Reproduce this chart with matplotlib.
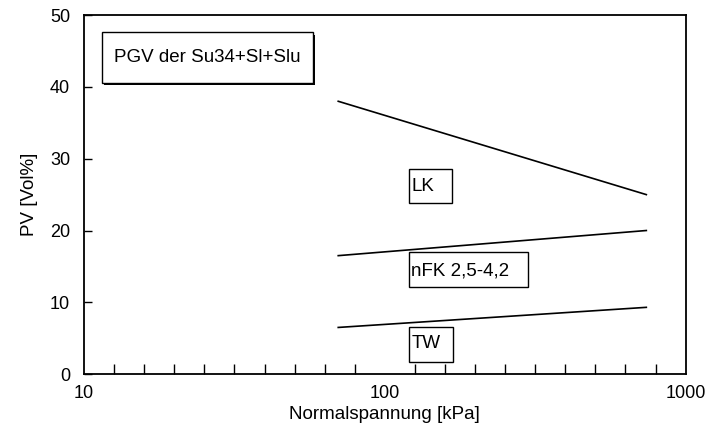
import numpy as np
import matplotlib
matplotlib.use('Agg')
import matplotlib.pyplot as plt
from matplotlib.ticker import FixedLocator, NullFormatter
from matplotlib.patches import Rectangle

plt.rcParams['font.family'] = ['Liberation Sans', 'DejaVu Sans']

# Normalspannung [kPa] und PV [Vol%]
x_start, x_end = 70, 740
lk_upper = [38.0, 25.0]
nfk_upper = [16.5, 20.0]
tw_upper = [6.5, 9.3]

labels = ['LK', 'nFK 2,5-4,2', 'TW']
label_y = [26.1, 14.4, 4.2]

yticks = [0, 10, 20, 30, 40, 50]
xticks = [10, 100, 1000]

# Kastengrenzen (x links/rechts, y unten/oben)
box_x0 = 120
box_x1 = [167, 300, 169]
box_y0 = [23.8, 12.1, 1.7]
box_y1 = [28.6, 17.0, 6.6]

fig, ax = plt.subplots(figsize=(7.12, 4.32), dpi=100)
fig.subplots_adjust(left=0.118, right=0.963, top=0.965, bottom=0.134)

for ys in (lk_upper, nfk_upper, tw_upper):
    ax.plot([x_start, x_end], ys, color='black', lw=1.2)

for txt, ly, x1, y0, y1 in zip(labels, label_y, box_x1, box_y0, box_y1):
    ax.add_patch(Rectangle((box_x0, y0), x1 - box_x0, y1 - y0,
                           fc='white', ec='black', lw=1.0, zorder=3))
    ax.text(box_x0 * 1.02, ly, txt, fontsize=13.5, ha='left', va='center', zorder=4)

# Titelbox mit Schatten
ax.add_patch(Rectangle((0.034, 0.805), 0.35, 0.14, transform=ax.transAxes,
                       fc='black', ec='black', lw=0))
ax.add_patch(Rectangle((0.030, 0.812), 0.35, 0.14, transform=ax.transAxes,
                       fc='white', ec='black', lw=1.0))
ax.text(0.205, 0.882, 'PGV der Su34+Sl+Slu', transform=ax.transAxes,
        fontsize=13.5, ha='center', va='center')

ax.set_xscale('log')
ax.set_xlim(10, 1000)
ax.set_ylim(0, 50)
ax.set_xticks(xticks)
ax.set_xticklabels([str(t) for t in xticks])
ax.xaxis.set_minor_locator(FixedLocator(10 ** np.arange(1.1, 3.0, 0.1)))
ax.xaxis.set_minor_formatter(NullFormatter())
ax.set_yticks(yticks)

ax.tick_params(axis='x', which='major', direction='in', length=0, labelsize=13, pad=8)
ax.tick_params(axis='x', which='minor', direction='in', length=7, width=1)
ax.tick_params(axis='y', direction='in', length=6, width=1, labelsize=13, pad=10)

for s in ax.spines.values():
    s.set_linewidth(1.3)

ax.set_xlabel('Normalspannung [kPa]', fontsize=13.5, labelpad=3)
ax.set_ylabel('PV [Vol%]', fontsize=13.5, labelpad=9)

fig.savefig('out.png', dpi=100)
